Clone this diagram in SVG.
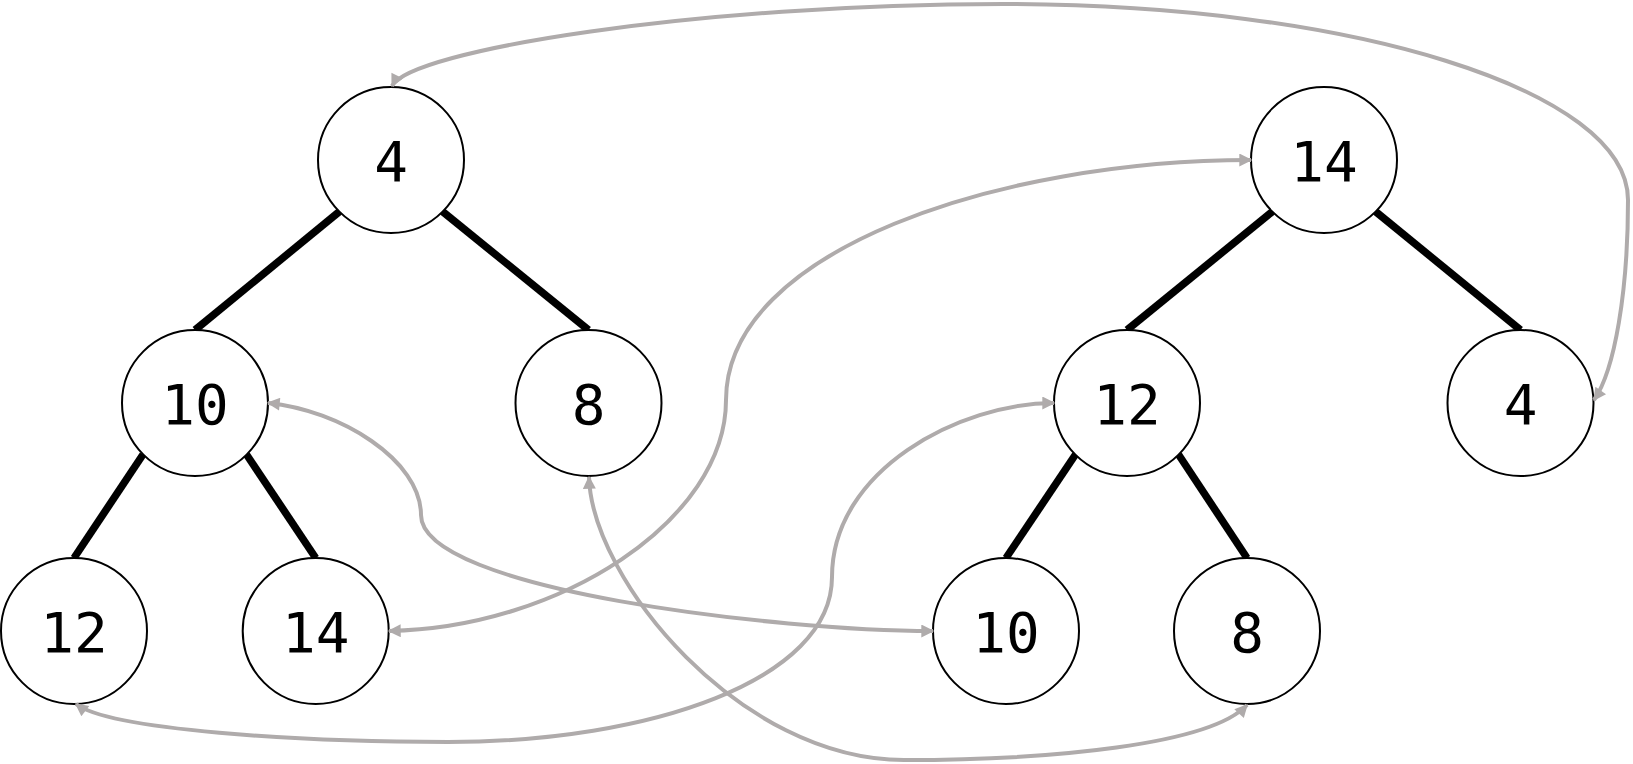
<svg xmlns="http://www.w3.org/2000/svg" width="1633" height="764" viewBox="0 0 1633 764">
<style>
.node circle{fill:#fff;stroke:#000;stroke-width:2}
.node text{font-family:"DejaVu Sans Mono","Liberation Mono",monospace;font-size:56px;text-anchor:middle;fill:#000}
.edge{stroke:#000;stroke-width:7.5;fill:none}
.link{stroke:#afabab;stroke-width:4;fill:none;marker-start:url(#ah);marker-end:url(#ah)}
</style>
<defs>
<marker id="ah" viewBox="0 0 10 10" refX="9" refY="5" markerWidth="17" markerHeight="13" markerUnits="userSpaceOnUse" orient="auto-start-reverse">
<path d="M0,0 L10,5 L0,10 z" fill="#afabab"/>
</marker>
</defs>
<g id="tree-edges">
<line class="edge" x1="339.5" y1="211.5" x2="195" y2="330"/>
<line class="edge" x1="442.5" y1="211.5" x2="588.5" y2="330"/>
<line class="edge" x1="143" y1="454.5" x2="74" y2="558"/>
<line class="edge" x1="246.5" y1="454.5" x2="315.7" y2="558"/>
<line class="edge" x1="1272.5" y1="211.5" x2="1127" y2="330"/>
<line class="edge" x1="1375.5" y1="211.5" x2="1520.5" y2="330"/>
<line class="edge" x1="1075.5" y1="454.5" x2="1006" y2="558"/>
<line class="edge" x1="1178.5" y1="454.5" x2="1247" y2="558"/>
</g>
<g id="n-l4" class="node"><circle cx="391" cy="160" r="73"/><text x="391" y="181">4</text></g>
<g id="n-l10" class="node"><circle cx="195" cy="403" r="73"/><text x="195" y="424">10</text></g>
<g id="n-l8" class="node"><circle cx="588.5" cy="403" r="73"/><text x="588.5" y="424">8</text></g>
<g id="n-l12" class="node"><circle cx="74" cy="631" r="73"/><text x="74" y="652">12</text></g>
<g id="n-l14" class="node"><circle cx="315.7" cy="631" r="73"/><text x="315.7" y="652">14</text></g>
<g id="n-r14" class="node"><circle cx="1324" cy="160" r="73"/><text x="1324" y="181">14</text></g>
<g id="n-r12" class="node"><circle cx="1127" cy="403" r="73"/><text x="1127" y="424">12</text></g>
<g id="n-r4" class="node"><circle cx="1520.5" cy="403" r="73"/><text x="1520.5" y="424">4</text></g>
<g id="n-r10" class="node"><circle cx="1006" cy="631" r="73"/><text x="1006" y="652">10</text></g>
<g id="n-r8" class="node"><circle cx="1247" cy="631" r="73"/><text x="1247" y="652">8</text></g>
<g id="connectors">
<path class="link" d="M392,86 C410,50 700,4 1003,4 C1350,4 1628,90 1628,200 C1628,290 1615,370 1594,400"/>
<path class="link" d="M389,631 C560,628 726,520 726,400 C726,250 1000,160 1251,160"/>
<path class="link" d="M268,403 C340,410 421,460 421,515 C421,590 780,631 933,631"/>
<path class="link" d="M76,704 C110,730 300,742 448,742 C650,742 832,680 832,577 C832,470 960,403 1054,403"/>
<path class="link" d="M589,477 C592,580 740,760 904,760 C1050,760 1210,745 1247,705"/>
</g>
</svg>
